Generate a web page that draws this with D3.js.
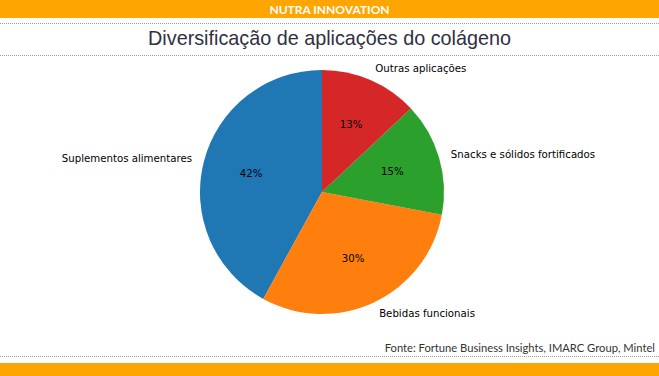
<!DOCTYPE html>
<html>
<head>
<meta charset="utf-8">
<script src="https://cdn.jsdelivr.net/npm/d3@7"></script>
<style>
  body { margin: 0; background: #fff; }
  svg { display: block; }
</style>
</head>
<body>
<div id="chart"></div>
<script>
var width = 659;
var height = 376;

// data
var categories = ["Suplementos alimentares", "Bebidas funcionais", "Snacks e sólidos fortificados", "Outras aplicações"];
var shares = [42, 30, 15, 13];
var colors = ["#1f77b4", "#ff7f0e", "#2ca02c", "#d62728"];

var cx = 322, cy = 192, r = 122;

const svg = d3.select("#chart")
    .append("svg")
    .attr("width", width)
    .attr("height", height);

// header / footer bands
svg.append("rect").attr("x", 0).attr("y", 0).attr("width", width).attr("height", 18).attr("fill", "#ffa500");
svg.append("text")
    .attr("x", width / 2).attr("y", 14)
    .attr("text-anchor", "middle")
    .attr("font-family", "Lato, 'Open Sans', sans-serif")
    .attr("font-weight", "bold")
    .attr("font-size", 12)
    .attr("fill", "#fff")
    .text("NUTRA INNOVATION");

function dotted(y) {
    svg.append("line")
        .attr("x1", 0).attr("x2", width)
        .attr("y1", y).attr("y2", y)
        .attr("stroke", "#a0a0a0")
        .attr("stroke-width", 1)
        .attr("stroke-dasharray", "1,1");
}
dotted(23.5);
dotted(55.5);
dotted(356.5);

svg.append("text")
    .attr("x", width / 2).attr("y", 45)
    .attr("text-anchor", "middle")
    .attr("font-family", "'Liberation Sans', Arial, sans-serif")
    .attr("font-size", 19.8)
    .attr("fill", "#303042")
    .text("Diversificação de aplicações do colágeno");

svg.append("text")
    .attr("x", 655).attr("y", 352)
    .attr("text-anchor", "end")
    .attr("font-family", "Lato, 'Open Sans', sans-serif")
    .attr("font-size", 11.2)
    .attr("fill", "#333")
    .text("Fonte: Fortune Business Insights, IMARC Group, Mintel");

svg.append("rect").attr("x", 0).attr("y", 363).attr("width", width).attr("height", 13).attr("fill", "#ffa500");

// pie: matplotlib-style, start at top, counterclockwise
const pie = d3.pie().sort(null)
    .startAngle(0).endAngle(-2 * Math.PI)
    .value(function(d) { return d; });
const arcs = pie(shares);
const arc = d3.arc().innerRadius(0).outerRadius(r);

const g = svg.append("g").attr("transform", "translate(" + cx + "," + cy + ")");

g.selectAll("path")
    .data(arcs)
    .enter().append("path")
    .attr("d", arc)
    .attr("fill", function(d, i) { return colors[i]; });

function mid(d) { return (d.startAngle + d.endAngle) / 2; }

g.selectAll("text.pct")
    .data(arcs)
    .enter().append("text")
    .attr("class", "pct")
    .attr("x", function(d) { return 0.6 * r * Math.sin(mid(d)); })
    .attr("y", function(d) { return -0.6 * r * Math.cos(mid(d)); })
    .attr("dy", "0.35em")
    .attr("text-anchor", "middle")
    .attr("font-family", "'DejaVu Sans', sans-serif")
    .attr("font-size", 10.2)
    .attr("fill", "#000")
    .text(function(d) { return d.data + "%"; });

g.selectAll("text.lbl")
    .data(arcs)
    .enter().append("text")
    .attr("class", "lbl")
    .attr("x", function(d) { return 1.1 * r * Math.sin(mid(d)); })
    .attr("y", function(d) { return -1.1 * r * Math.cos(mid(d)); })
    .attr("dy", "0.35em")
    .attr("text-anchor", function(d) { return Math.sin(mid(d)) > 0 ? "start" : "end"; })
    .attr("font-family", "'DejaVu Sans', sans-serif")
    .attr("font-size", 10.2)
    .attr("fill", "#000")
    .text(function(d, i) { return categories[i]; });
</script>
</body>
</html>
